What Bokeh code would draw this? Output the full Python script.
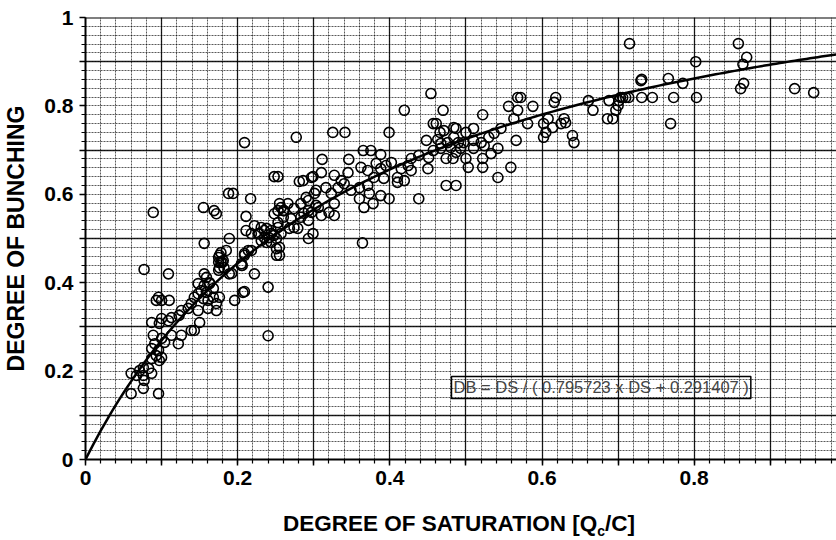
import numpy as np
from bokeh.plotting import figure
from bokeh.layouts import column
from bokeh.models import FixedTicker, Grid, Label, Span, ColumnDataSource, Div
from bokeh.embed import file_html
from bokeh.resources import INLINE

# ---------------- data ----------------
ds_values = [
    0.060, 0.076, 0.096, 0.077, 0.060, 0.067, 0.076, 0.087, 0.071, 0.083,
    0.076, 0.097, 0.087, 0.100, 0.093, 0.096, 0.087, 0.091, 0.104, 0.100,
    0.089, 0.113, 0.126, 0.122, 0.139, 0.143, 0.087, 0.097, 0.100, 0.113,
    0.123, 0.109, 0.150, 0.126, 0.135, 0.148, 0.161, 0.172, 0.172, 0.139,
    0.143, 0.155, 0.161, 0.168, 0.148, 0.159, 0.152, 0.168, 0.148, 0.156,
    0.163, 0.159, 0.163, 0.096, 0.100, 0.093, 0.110, 0.077, 0.109, 0.156,
    0.175, 0.180, 0.206, 0.189, 0.209, 0.196, 0.176, 0.207, 0.240, 0.240,
    0.089, 0.155, 0.169, 0.172, 0.211, 0.156, 0.189, 0.176, 0.178, 0.182,
    0.175, 0.205, 0.222, 0.209, 0.214, 0.178, 0.185, 0.175, 0.181, 0.176,
    0.192, 0.205, 0.209, 0.218, 0.227, 0.235, 0.235, 0.244, 0.253, 0.251,
    0.255, 0.251, 0.255, 0.222, 0.248, 0.261, 0.270, 0.274, 0.266, 0.257,
    0.231, 0.238, 0.244, 0.228, 0.241, 0.248, 0.231, 0.238, 0.244, 0.251,
    0.257, 0.211, 0.218, 0.253, 0.248, 0.281, 0.299, 0.188, 0.194, 0.217,
    0.255, 0.253, 0.260, 0.274, 0.283, 0.293, 0.301, 0.287, 0.297, 0.306,
    0.260, 0.253, 0.279, 0.268, 0.299, 0.293, 0.209, 0.277,
    0.454, 0.419, 0.470, 0.457, 0.461, 0.325, 0.341, 0.399, 0.466, 0.487,
    0.500, 0.448, 0.463, 0.476, 0.490, 0.497, 0.365, 0.375, 0.388, 0.457,
    0.467, 0.480, 0.493, 0.500, 0.311, 0.346, 0.451, 0.474, 0.428, 0.438,
    0.382, 0.395, 0.402, 0.362, 0.371, 0.388, 0.424, 0.415, 0.450, 0.345,
    0.310, 0.297, 0.327, 0.336, 0.379, 0.392, 0.410, 0.410, 0.419, 0.428,
    0.474, 0.487, 0.286, 0.290, 0.303, 0.316, 0.323, 0.332, 0.340, 0.349,
    0.360, 0.371, 0.373, 0.388, 0.360, 0.399, 0.438, 0.366, 0.378, 0.327,
    0.320, 0.310, 0.293, 0.303, 0.283, 0.293, 0.327, 0.364,
    0.522, 0.556, 0.568, 0.572, 0.568, 0.588, 0.618, 0.616, 0.661, 0.667,
    0.563, 0.581, 0.608, 0.602, 0.614, 0.629, 0.631, 0.625, 0.605, 0.602,
    0.640, 0.642, 0.566, 0.559, 0.542, 0.542, 0.533, 0.524, 0.522, 0.510,
    0.546, 0.537, 0.530, 0.484, 0.471, 0.503, 0.522, 0.484, 0.467, 0.510,
    0.520, 0.487, 0.510, 0.483,
    0.715, 0.730, 0.714, 0.710, 0.701, 0.688, 0.700, 0.697, 0.686, 0.693,
    0.858, 0.869, 0.864, 0.802, 0.731, 0.766, 0.785, 0.865, 0.861, 0.932,
    0.957, 0.703, 0.706, 0.731, 0.745, 0.773, 0.803, 0.769,
]
db_values = [
    0.149, 0.161, 0.149, 0.179, 0.195, 0.190, 0.190, 0.195, 0.201, 0.206,
    0.208, 0.224, 0.228, 0.231, 0.235, 0.247, 0.251, 0.262, 0.265, 0.274,
    0.281, 0.281, 0.281, 0.262, 0.292, 0.292, 0.310, 0.308, 0.319, 0.321,
    0.326, 0.314, 0.310, 0.337, 0.342, 0.337, 0.342, 0.337, 0.353, 0.353,
    0.367, 0.364, 0.360, 0.367, 0.375, 0.378, 0.382, 0.387, 0.398, 0.394,
    0.398, 0.412, 0.400, 0.367, 0.360, 0.360, 0.360, 0.430, 0.420, 0.420,
    0.446, 0.446, 0.439, 0.420, 0.380, 0.360, 0.367, 0.378, 0.390, 0.280,
    0.559, 0.570, 0.563, 0.556, 0.550, 0.489, 0.500, 0.462, 0.446, 0.434,
    0.428, 0.443, 0.420, 0.466, 0.473, 0.468, 0.473, 0.457, 0.450, 0.434,
    0.421, 0.439, 0.462, 0.473, 0.511, 0.518, 0.502, 0.511, 0.525, 0.477,
    0.462, 0.462, 0.480, 0.529, 0.556, 0.563, 0.545, 0.525, 0.579, 0.570,
    0.525, 0.523, 0.518, 0.511, 0.502, 0.507, 0.495, 0.491, 0.491, 0.500,
    0.511, 0.518, 0.511, 0.640, 0.640, 0.629, 0.640, 0.602, 0.602, 0.590,
    0.579, 0.563, 0.563, 0.568, 0.579, 0.586, 0.602, 0.557, 0.559, 0.570,
    0.548, 0.536, 0.523, 0.523, 0.511, 0.500, 0.717, 0.729,
    0.828, 0.790, 0.790, 0.760, 0.760, 0.740, 0.740, 0.740, 0.740, 0.749,
    0.740, 0.722, 0.724, 0.717, 0.717, 0.717, 0.699, 0.699, 0.690, 0.699,
    0.704, 0.706, 0.704, 0.681, 0.679, 0.679, 0.683, 0.681, 0.681, 0.688,
    0.670, 0.665, 0.672, 0.661, 0.654, 0.658, 0.665, 0.658, 0.658, 0.649,
    0.649, 0.638, 0.643, 0.631, 0.638, 0.636, 0.638, 0.627, 0.631, 0.654,
    0.620, 0.620, 0.631, 0.593, 0.609, 0.615, 0.602, 0.615, 0.624, 0.609,
    0.615, 0.620, 0.602, 0.597, 0.590, 0.590, 0.590, 0.570, 0.579, 0.579,
    0.559, 0.552, 0.563, 0.575, 0.548, 0.541, 0.552, 0.490,
    0.780, 0.799, 0.819, 0.819, 0.790, 0.799, 0.819, 0.808, 0.812, 0.790,
    0.771, 0.760, 0.771, 0.760, 0.751, 0.771, 0.762, 0.760, 0.740, 0.729,
    0.733, 0.717, 0.722, 0.661, 0.638, 0.704, 0.692, 0.710, 0.681, 0.749,
    0.749, 0.738, 0.729, 0.751, 0.744, 0.661, 0.661, 0.729, 0.715, 0.722,
    0.717, 0.695, 0.704, 0.681,
    0.941, 0.857, 0.819, 0.819, 0.812, 0.812, 0.801, 0.790, 0.771, 0.771,
    0.941, 0.910, 0.894, 0.900, 0.860, 0.862, 0.851, 0.851, 0.839, 0.839,
    0.830, 0.819, 0.819, 0.819, 0.819, 0.819, 0.819, 0.760,
]

# fitted model printed on the chart: DB = DS / (a * DS + b)
fit_a = 0.795723
fit_b = 0.291407
fit_text = "DB = DS / ( 0.795723 x DS + 0.291407 )"

x_tick_values = [round(i * 0.1, 1) for i in range(0, 10)]
x_tick_labels = ["0", "", "0.2", "", "0.4", "", "0.6", "", "0.8", ""]
y_tick_values = [round(i * 0.1, 1) for i in range(0, 11)]
y_tick_labels = ["0", "", "0.2", "", "0.4", "", "0.6", "", "0.8", "", "1"]

x_title_main = "DEGREE OF SATURATION [Q"
x_title_sub = "c"
x_title_end = "/C]"
y_title = "DEGREE OF BUNCHING"

# ---------------- figure ----------------
X_END = 0.987
p = figure(width=836, height=500, x_range=(0, X_END), y_range=(0, 1),
           output_backend="svg", toolbar_location=None,
           min_border_left=84, min_border_right=0,
           min_border_top=17, min_border_bottom=41)
p.outline_line_color = None
p.background_fill_color = "white"
p.xgrid.visible = False
p.ygrid.visible = False

x_fine = [round(i * 0.02, 2) for i in range(0, 50)]
y_fine = [round(i * 0.02, 2) for i in range(0, 51)]

# fine dotted grid
for dim, ticks in ((0, x_fine), (1, y_fine)):
    p.add_layout(Grid(dimension=dim, ticker=FixedTicker(ticks=ticks),
                      grid_line_color="black", grid_line_alpha=0.65,
                      grid_line_dash="2 1", grid_line_width=1))
# heavier lines
p.add_layout(Grid(dimension=0, ticker=FixedTicker(ticks=x_tick_values[1:]),
                  grid_line_color="black", grid_line_alpha=0.85,
                  grid_line_width=1.3))
p.add_layout(Grid(dimension=1, ticker=FixedTicker(ticks=[0.1, 0.3, 0.5, 0.7, 0.9]),
                  grid_line_color="black", grid_line_alpha=0.85,
                  grid_line_width=1.3))

p.xaxis.ticker = FixedTicker(ticks=x_tick_values, minor_ticks=x_fine)
p.yaxis.ticker = FixedTicker(ticks=y_tick_values, minor_ticks=y_fine)
p.xaxis.major_label_overrides = dict(zip(x_tick_values, x_tick_labels))
p.yaxis.major_label_overrides = dict(zip(y_tick_values, y_tick_labels))

for ax in (p.xaxis[0], p.yaxis[0]):
    ax.axis_line_width = 2
    ax.axis_line_color = "black"
    ax.major_tick_line_width = 1.5
    ax.minor_tick_line_width = 1.2
    ax.major_tick_in = 0
    ax.minor_tick_in = 0
    ax.major_tick_out = 6
    ax.minor_tick_out = 4
    ax.major_label_text_font = "Liberation Sans"
    ax.major_label_text_font_style = "bold"
    ax.major_label_text_font_size = "21px"
    ax.major_label_text_color = "black"
p.xaxis.axis_label = None
p.xaxis.major_label_standoff = 5
p.yaxis.major_label_standoff = 6
p.yaxis.axis_label = y_title
p.yaxis.axis_label_text_font = "Liberation Sans"
p.yaxis.axis_label_text_font_style = "bold"
p.yaxis.axis_label_text_font_size = "23px"
p.yaxis.axis_label_text_color = "black"
p.yaxis.axis_label_standoff = 12

p.add_layout(Span(location=1, dimension="width", line_color="black", line_width=2))

# data points
src = ColumnDataSource(dict(ds=ds_values, db=db_values))
p.scatter(x="ds", y="db", source=src, marker="circle", size=10,
          fill_color=None, line_color="black", line_width=1.6)

# fitted curve
ds_curve = np.linspace(0, X_END, 200)
db_curve = ds_curve / (fit_a * ds_curve + fit_b)
p.line(ds_curve, db_curve, line_color="black", line_width=2.5)

# equation box
p.add_layout(Label(x=0.481, y=0.163, text=fit_text,
                   text_font="Liberation Sans", text_font_size="16.5px",
                   text_baseline="middle", text_align="left",
                   border_line_color="black", border_line_width=1.5,
                   background_fill_color=None, padding=2))

# x axis title (with subscript) as real HTML text below the plot
x_title_html = (
    '<div style="margin-left:283px; margin-top:11px; white-space:nowrap; '
    'font-family:\'Liberation Sans\', Arial, sans-serif; font-weight:bold; '
    'font-size:22.5px; line-height:25px; color:black;">'
    f'{x_title_main}<span style="font-size:14px; position:relative; top:5px;">'
    f'{x_title_sub}</span>{x_title_end}</div>'
)
title_div = Div(text=x_title_html, width=836, height=40, margin=0)

layout = column(p, title_div, spacing=0)
open("out.html", "w").write(file_html(layout, INLINE))
